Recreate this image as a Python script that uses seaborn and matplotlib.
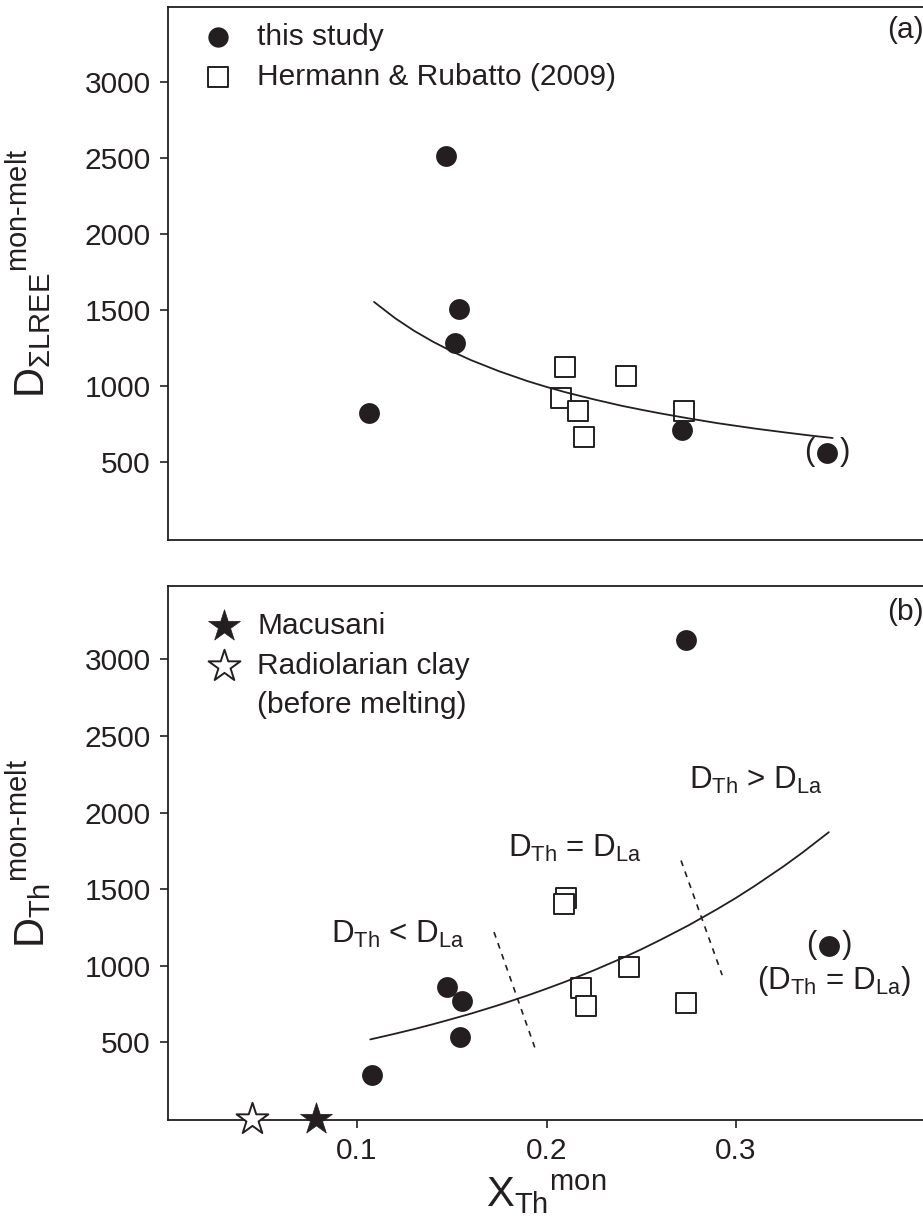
import numpy as np
import pandas as pd
import matplotlib
matplotlib.use("Agg")
import matplotlib.pyplot as plt
import seaborn as sns

# ---------------- data ----------------
# Panel (a): D_sumLREE(mon-melt) vs X_Th(mon)
a_study_x = [0.1470, 0.1538, 0.1517, 0.1063, 0.2715]
a_study_y = [2513, 1507, 1283, 822, 711]
a_paren_x = [0.3480]
a_paren_y = [559]
a_hr_x = [0.2098, 0.2077, 0.2166, 0.2198, 0.2419, 0.2725]
a_hr_y = [1125, 921, 836, 664, 1066, 836]
a_fit_x = [0.109, 0.120, 0.130, 0.140, 0.150, 0.160, 0.175, 0.190, 0.200, 0.210,
           0.225, 0.240, 0.250, 0.260, 0.275, 0.290, 0.300, 0.310, 0.325, 0.340, 0.351]
a_fit_y = [1553, 1447, 1364, 1292, 1228, 1171, 1097, 1032, 994, 959,
           912, 869, 844, 820, 787, 756, 738, 720, 696, 673, 658]

# Panel (b): D_Th(mon-melt) vs X_Th(mon)
b_study_x = [0.2736, 0.1477, 0.1554, 0.1541, 0.1080]
b_study_y = [3128, 862, 769, 537, 290]
b_paren_x = [0.3492]
b_paren_y = [1126]
b_hr_x = [0.2104, 0.2093, 0.2184, 0.2210, 0.2435, 0.2736]
b_hr_y = [1442, 1406, 853, 734, 993, 759]
b_mac_x = [0.0785]
b_mac_y = [0]
b_rad_x = [0.0448]
b_rad_y = [0]
b_fit_x = [0.107, 0.120, 0.130, 0.140, 0.150, 0.160, 0.175, 0.190, 0.200, 0.210,
           0.225, 0.240, 0.250, 0.260, 0.275, 0.290, 0.300, 0.310, 0.325, 0.335, 0.349]
b_fit_y = [519, 556, 586, 618, 652, 687, 744, 806, 850, 896,
           970, 1050, 1107, 1168, 1264, 1369, 1443, 1522, 1648, 1738, 1872]
b_div1_x = [0.1723, 0.1938]
b_div1_y = [1220, 467]
b_div2_x = [0.2710, 0.2927]
b_div2_y = [1687, 939]

y_ticks = [500, 1000, 1500, 2000, 2500, 3000]
x_ticks = [0.1, 0.2, 0.3]
x_tick_labels = ["0.1", "0.2", "0.3"]

# ---------------- style ----------------
sns.set_style("ticks")
INK = "#231f20"
plt.rcParams["font.family"] = ["Liberation Sans", "DejaVu Sans"]
plt.rcParams["mathtext.fontset"] = "custom"
plt.rcParams["mathtext.rm"] = "Liberation Sans"
plt.rcParams["mathtext.it"] = "Liberation Sans:italic"
plt.rcParams["mathtext.bf"] = "Liberation Sans:bold"
plt.rcParams["axes.edgecolor"] = INK
plt.rcParams["text.color"] = INK
plt.rcParams["axes.labelcolor"] = INK

fig = plt.figure(figsize=(9.23, 12.21), dpi=100)
W, H = 923.0, 1221.0
left = 167.5 / W
width = (925.5 - 167.5) / W
ax_a = fig.add_axes([left, 1 - 540 / H, width, (540 - 7) / H])
ax_b = fig.add_axes([left, 1 - 1120 / H, width, (1120 - 586) / H])

TXT = 21.5
ANN = 22.5
LAB = 30
CIRC_S = 225
SQ_S = 210
STAR_S = 580

def style_axes(ax, ylim):
    ax.set_xlim(0, 0.4)
    ax.set_ylim(*ylim)
    ax.set_yticks(y_ticks)
    ax.set_yticklabels([str(v) for v in y_ticks])
    for s in ["top", "left", "bottom", "right"]:
        ax.spines[s].set_linewidth(1.3)
        ax.spines[s].set_color(INK)
    ax.tick_params(axis="both", direction="out", length=6, width=1.2,
                   labelsize=TXT, pad=6, colors=INK)

# ---------- panel (a) ----------
style_axes(ax_a, (-13, 3493))
ax_a.set_xticks([])
sns.scatterplot(x=a_hr_x, y=a_hr_y, ax=ax_a, marker="s", s=SQ_S,
                facecolor="white", edgecolor=INK, linewidth=1.4, zorder=2, legend=False)
sns.lineplot(x=a_fit_x, y=a_fit_y, ax=ax_a, color=INK, linewidth=1.3, zorder=3)
sns.scatterplot(x=a_study_x, y=a_study_y, ax=ax_a, marker="o", s=CIRC_S,
                color=INK, edgecolor=INK, linewidth=0, zorder=4, legend=False)
sns.scatterplot(x=a_paren_x, y=a_paren_y, ax=ax_a, marker="o", s=CIRC_S,
                color=INK, edgecolor=INK, linewidth=0, zorder=4, legend=False)
for dx, ch in [(-18, "("), (18, ")")]:
    ax_a.annotate(ch, xy=(a_paren_x[0], a_paren_y[0]), xytext=(dx, 1),
                  textcoords="offset pixels", ha="center", va="center", fontsize=ANN)

# legend (a)
ax_a.scatter([0.0266], [3296], marker="o", s=CIRC_S * 0.95, color=INK, linewidth=0)
ax_a.scatter([0.0266], [3033], marker="s", s=SQ_S * 0.95, facecolor="white",
             edgecolor=INK, linewidth=1.4)
ax_a.text(0.0472, 3296, "this study", fontsize=TXT, va="center", ha="left")
ax_a.text(0.0472, 3033, "Hermann & Rubatto (2009)", fontsize=TXT, va="center", ha="left")
ax_a.text(0.399, 3342, "(a)", fontsize=TXT, va="center", ha="right")

ax_a.set_ylabel(r"$\mathrm{D}_{\mathrm{\Sigma LREE}}{}^{\text{mon-melt}}$", fontsize=LAB)
ax_a.yaxis.set_label_coords(-0.150, 0.5)

# ---------- panel (b) ----------
style_axes(ax_b, (-7, 3479))
ax_b.set_xticks(x_ticks)
ax_b.set_xticklabels(x_tick_labels)
sns.scatterplot(x=b_hr_x, y=b_hr_y, ax=ax_b, marker="s", s=SQ_S,
                facecolor="white", edgecolor=INK, linewidth=1.4, zorder=2, legend=False)
sns.lineplot(x=b_fit_x, y=b_fit_y, ax=ax_b, color=INK, linewidth=1.3, zorder=3)
sns.lineplot(x=b_div1_x, y=b_div1_y, ax=ax_b, color=INK, linewidth=1.2,
             linestyle=(0, (3.5, 3.5)), zorder=3, sort=False)
sns.lineplot(x=b_div2_x, y=b_div2_y, ax=ax_b, color=INK, linewidth=1.2,
             linestyle=(0, (3.5, 3.5)), zorder=3, sort=False)
sns.scatterplot(x=b_study_x, y=b_study_y, ax=ax_b, marker="o", s=CIRC_S,
                color=INK, edgecolor=INK, linewidth=0, zorder=4, legend=False)
sns.scatterplot(x=b_paren_x, y=b_paren_y, ax=ax_b, marker="o", s=CIRC_S,
                color=INK, edgecolor=INK, linewidth=0, zorder=4, legend=False)
for dx, ch in [(-18, "("), (18, ")")]:
    ax_b.annotate(ch, xy=(b_paren_x[0], b_paren_y[0]), xytext=(dx, 1),
                  textcoords="offset pixels", ha="center", va="center", fontsize=ANN)
sns.scatterplot(x=b_rad_x, y=b_rad_y, ax=ax_b, marker="*", s=STAR_S,
                facecolor="white", edgecolor=INK, linewidth=1.4, zorder=5,
                clip_on=False, legend=False)
sns.scatterplot(x=b_mac_x, y=b_mac_y, ax=ax_b, marker="*", s=STAR_S,
                color=INK, edgecolor=INK, linewidth=0.5, zorder=5,
                clip_on=False, legend=False)

# legend (b)
ax_b.scatter([0.030], [3217], marker="*", s=STAR_S, color=INK, linewidth=0.5)
ax_b.scatter([0.030], [2960], marker="*", s=STAR_S, facecolor="white",
             edgecolor=INK, linewidth=1.4)
ax_b.text(0.0474, 3217, "Macusani", fontsize=TXT, va="center", ha="left")
ax_b.text(0.0474, 2960, "Radiolarian clay", fontsize=TXT, va="center", ha="left")
ax_b.text(0.0474, 2703, "(before melting)", fontsize=TXT, va="center", ha="left")
ax_b.text(0.399, 3310, "(b)", fontsize=TXT, va="center", ha="right")

# region annotations
ax_b.text(0.1217, 1149, r"$\mathrm{D_{Th}}$ < $\mathrm{D_{La}}$", fontsize=ANN,
          ha="center", va="baseline")
ax_b.text(0.215, 1710, r"$\mathrm{D_{Th}}$ = $\mathrm{D_{La}}$", fontsize=ANN,
          ha="center", va="baseline")
ax_b.text(0.3106, 2154, r"$\mathrm{D_{Th}}$ > $\mathrm{D_{La}}$", fontsize=ANN,
          ha="center", va="baseline")
ax_b.text(0.3518, 846, r"($\mathrm{D_{Th}}$ = $\mathrm{D_{La}}$)", fontsize=ANN,
          ha="center", va="baseline")

ax_b.set_ylabel(r"$\mathrm{D}_{\mathrm{Th}}{}^{\text{mon-melt}}$", fontsize=LAB)
ax_b.yaxis.set_label_coords(-0.150, 0.5)
ax_b.set_xlabel(r"$\mathrm{X}_{\mathrm{Th}}{}^{\mathrm{mon}}$", fontsize=LAB, labelpad=6)

fig.savefig("out.png", dpi=100)
